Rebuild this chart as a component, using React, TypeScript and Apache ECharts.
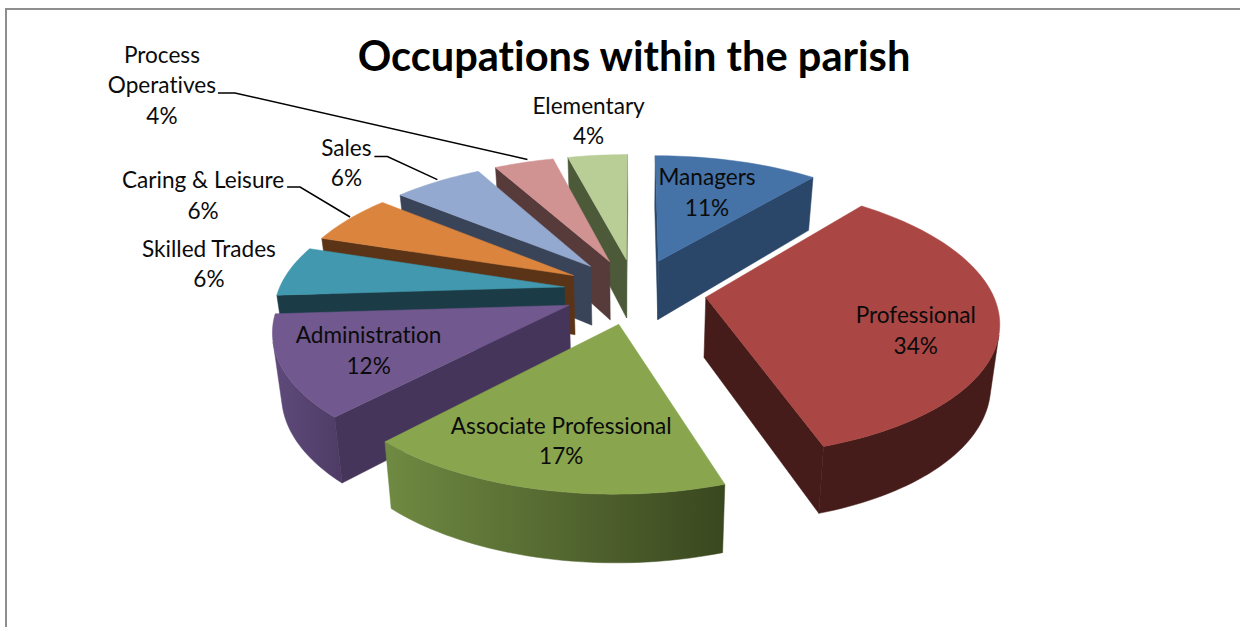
import React, { useEffect, useRef } from "react";
import * as echarts from "echarts";

const categories = ["Managers", "Professional", "Associate Professional", "Administration", "Skilled Trades", "Caring & Leisure", "Sales", "Process\nOperatives", "Elementary"];
const shares = [11, 34, 17, 12, 6, 6, 6, 4, 4];

const topColors = ["#4572a7", "#aa4643", "#89a54e", "#71588f", "#4198af", "#db843d", "#93a9cf", "#d19392", "#b9cd96"];
const wallColors = ["#2a4669", "#451c19", "#3f4d22", "#46355a", "#1b3c47", "#5b3418", "#3a4458", "#573a3a", "#4d5a3a"];
const outerFrom = ["#34567f", "#451c19", "#6f8a42", "#5f4b7b", "#2a6070", "#8a5427", "#5f6e88", "#876060", "#78855f"];
const outerTo = ["#2a4669", "#451c19", "#3a471f", "#4e3b65", "#1b3c47", "#5b3418", "#3a4458", "#573a3a", "#4d5a3a"];

// Layout: label centres relative to the outer middle of each slice.
const labelOffsets = [[-30, 31], [-84, 7], [23, -49], [87, -17], [-80, -7.5], [-146, -24], [-91, -19], [-362, -77.5], [-9, -35]];
// Leader lines: offset of the elbow's start and end from the label centre, and of the tip from the slice.
const leaders: Record<number, number[]> = {
  5: [84, -8, 97, -8, 1, -2],
  6: [28, -6, 41, -6, 0, -2],
  7: [56, 8, 73, 8, 3.5, -3],
};

const CX = 635, CY = 291, RX = 286, RY = 131, PERSP = 0.159, EXPLODE = 0.25;
const DEPTH = 60, DEPTH_SLOPE = 7, FOOT_SCALE = 0.975;

const total = shares.reduce((a, b) => a + b, 0);
const starts: number[] = [];
shares.reduce((acc, v, i) => { starts[i] = (acc / total) * Math.PI * 2; return acc + v; }, 0);
const ends = shares.map((v, i) => starts[i] + (v / total) * Math.PI * 2);
const mids = shares.map((_, i) => (starts[i] + ends[i]) / 2);

type P = number[];
function top(i: number, t: number, r: number): P {
  const x = r * Math.sin(t) + EXPLODE * Math.sin(mids[i]);
  const y = r * Math.cos(t) + EXPLODE * Math.cos(mids[i]);
  const w = 1 + PERSP * y;
  return [CX + (RX * x) / w, CY - (RY * y) / w, y];
}
function foot(i: number, t: number, r: number): P {
  const p = top(i, t, r);
  return [CX + (p[0] - CX) * FOOT_SCALE, p[1] + DEPTH - DEPTH_SLOPE * p[2]];
}
function area(pts: P[]): number {
  let s = 0;
  pts.forEach((p, k) => { const q = pts[(k + 1) % pts.length]; s += p[0] * q[1] - q[0] * p[1]; });
  return s;
}
const xy = (p: P) => [p[0], p[1]];

function poly(points: P[], fill: any) {
  return { type: "polygon", shape: { points: points.map(xy) }, style: { fill, stroke: fill, lineWidth: 0.5 } };
}

function renderSlice(_: any, api: any) {
  const i = api.value(0);
  const s = starts[i], e = ends[i];
  const N = Math.max(12, Math.round((e - s) * 40));
  const arcT: P[] = [], arcB: P[] = [];
  for (let k = 0; k <= N; k++) {
    const t = s + ((e - s) * k) / N;
    arcT.push(top(i, t, 1));
    arcB.push(foot(i, t, 1));
  }
  const a0 = top(i, 0, 0), a1 = foot(i, 0, 0);
  const children: any[] = [];
  const up: P[] = [], down: P[] = [];
  for (let k = 0; k < N; k++) {
    if (area([arcT[k], arcT[k + 1], arcB[k + 1], arcB[k]]) < 0) {
      if (!up.length) { up.push(arcT[k]); down.push(arcB[k]); }
      up.push(arcT[k + 1]);
      down.push(arcB[k + 1]);
    }
  }
  if (up.length > 1) {
    const fill = new echarts.graphic.LinearGradient(0, 0, 1, 0, [
      { offset: 0, color: outerFrom[i] },
      { offset: 1, color: outerTo[i] },
    ]);
    children.push(poly([...up, ...down.reverse()], fill));
  }
  const startWall = [a0, arcT[0], arcB[0], a1];
  const endWall = [arcT[N], a0, a1, arcB[N]];
  if (area(startWall) < 0) children.push(poly(startWall, wallColors[i]));
  if (area(endWall) < 0) children.push(poly(endWall, wallColors[i]));
  children.push(poly([a0, ...arcT], topColors[i]));
  return { type: "group", children };
}

function renderLabel(_: any, api: any) {
  const i = api.value(0);
  const anchor = top(i, mids[i], 1);
  const lx = anchor[0] + labelOffsets[i][0];
  const ly = anchor[1] + labelOffsets[i][1];
  const children: any[] = [{
    type: "text",
    x: lx,
    y: ly,
    style: {
      text: `${categories[i]}\n${api.value(1)}%`,
      fill: "#0b0b0b",
      fontFamily: "Lato",
      fontSize: 22.6,
      lineHeight: 30.5,
      align: "center",
      verticalAlign: "middle",
    },
  }];
  const l = leaders[i];
  if (l) {
    children.push({
      type: "polyline",
      shape: { points: [[lx + l[0], ly + l[1]], [lx + l[2], ly + l[3]], [anchor[0] + l[4], anchor[1] + l[5]]] },
      style: { stroke: "#000", lineWidth: 1.5, fill: "none" },
    });
  }
  return { type: "group", children };
}

export default function App() {
  const ref = useRef<HTMLDivElement>(null);
  useEffect(() => {
    const chart = echarts.init(ref.current!, null, { renderer: "svg" });
    const rows = shares.map((v, i) => [i, v]);
    const backToFront = [...rows].sort((a, b) => Math.cos(mids[b[0]]) - Math.cos(mids[a[0]]));
    chart.setOption({
      animation: false,
      backgroundColor: "#fff",
      title: {
        text: "Occupations within the parish",
        left: 629,
        top: 50,
        textAlign: "center",
        textVerticalAlign: "middle",
        textStyle: { fontFamily: "Lato", fontSize: 41.6, fontWeight: "bold", color: "#000" },
      },
      graphic: [{
        type: "polyline",
        shape: { points: [[6, 627], [6, 9], [1240, 9]] },
        style: { stroke: "#8e8e8e", lineWidth: 2, fill: "none" },
      }],
      series: [
        { type: "custom", name: "Slices", coordinateSystem: "none", renderItem: renderSlice, data: backToFront, z: 2 },
        { type: "custom", name: "Labels", coordinateSystem: "none", renderItem: renderLabel, data: rows, z: 3 },
      ],
    });
    return () => chart.dispose();
  }, []);
  return <div ref={ref} style={{ position: "fixed", left: 0, top: 0, width: 1240, height: 627, fontVariantLigatures: "none" }} />;
}
